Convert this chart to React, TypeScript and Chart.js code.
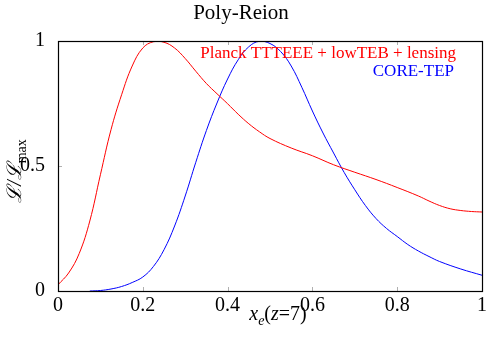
import React, { useEffect, useRef } from "react";
import { Chart, registerables } from "chart.js";
Chart.register(...registerables);

const titleText = "Poly-Reion";
const legendLabels = ["Planck TTTEEE + lowTEB + lensing", "CORE-TEP"];
const seriesColors = ["#ff0000", "#0000ff"];

const xTicks = [0, 0.2, 0.4, 0.6, 0.8, 1];
const yTicks = [0, 0.5, 1];

const planckX = [0, 0.025, 0.05, 0.075, 0.1, 0.125, 0.15, 0.175, 0.2, 0.225, 0.25, 0.275, 0.3, 0.325, 0.35, 0.375, 0.4, 0.425, 0.45, 0.475, 0.5, 0.55, 0.6, 0.65, 0.7, 0.75, 0.8, 0.85, 0.875, 0.9, 0.925, 0.95, 0.975, 1.0];
const planckY = [0.025, 0.072, 0.15, 0.28, 0.465, 0.645, 0.785, 0.9, 0.972, 0.997, 0.995, 0.972, 0.93, 0.879, 0.83, 0.789, 0.749, 0.707, 0.669, 0.637, 0.61, 0.572, 0.541, 0.505, 0.475, 0.446, 0.414, 0.38, 0.36, 0.342, 0.329, 0.322, 0.318, 0.316];

const coreX = [0.075, 0.1, 0.125, 0.15, 0.175, 0.2, 0.225, 0.25, 0.275, 0.3, 0.325, 0.35, 0.375, 0.4, 0.425, 0.45, 0.475, 0.5, 0.525, 0.55, 0.575, 0.6, 0.625, 0.65, 0.675, 0.7, 0.725, 0.75, 0.775, 0.8, 0.825, 0.85, 0.875, 0.9, 0.95, 1.0];
const coreY = [0, 0.002, 0.008, 0.018, 0.034, 0.056, 0.098, 0.165, 0.26, 0.38, 0.515, 0.642, 0.752, 0.848, 0.925, 0.977, 0.999, 0.99, 0.958, 0.9, 0.815, 0.72, 0.632, 0.552, 0.474, 0.405, 0.342, 0.29, 0.25, 0.218, 0.186, 0.16, 0.138, 0.118, 0.088, 0.063];

const SERIF = "'Liberation Serif', 'Times New Roman', serif";

const decor = {
  id: "decor",
  afterDraw(chart: any) {
    const { ctx, chartArea: a, scales } = chart;
    ctx.save();
    // inward ticks
    ctx.strokeStyle = "#b0b0b0";
    ctx.lineWidth = 1;
    ctx.beginPath();
    xTicks.slice(1, -1).forEach((v) => {
      const px = Math.round(scales.x.getPixelForValue(v)) + 0.5;
      ctx.moveTo(px, a.bottom);
      ctx.lineTo(px, a.bottom - 4);
      ctx.moveTo(px, a.top);
      ctx.lineTo(px, a.top + 4);
    });
    yTicks.slice(1, -1).forEach((v) => {
      const py = Math.round(scales.y.getPixelForValue(v)) + 0.5;
      ctx.moveTo(a.left, py);
      ctx.lineTo(a.left + 4, py);
    });
    ctx.stroke();
    // frame
    ctx.strokeStyle = "#000";
    ctx.lineWidth = 1.2;
    ctx.strokeRect(Math.round(a.left) + 0.5, Math.round(a.top) + 0.5, Math.round(a.right - a.left), Math.round(a.bottom - a.top));
    // legend
    ctx.textAlign = "right";
    ctx.textBaseline = "alphabetic";
    ctx.font = `17px ${SERIF}`;
    ctx.fillStyle = seriesColors[0];
    ctx.fillText(legendLabels[0], a.right - 26, a.top + 17);
    ctx.fillStyle = seriesColors[1];
    ctx.fillText(legendLabels[1], a.right - 28, a.top + 35);
    // x axis title: x_e(z=7)
    ctx.fillStyle = "#000";
    ctx.textAlign = "left";
    const big = 20, small = 14;
    const parts = [
      { t: "x", f: `italic ${big}px ${SERIF}`, dy: 0 },
      { t: "e", f: `italic ${small}px ${SERIF}`, dy: 5 },
      { t: "(", f: `${big}px ${SERIF}`, dy: 0 },
      { t: "z", f: `italic ${big}px ${SERIF}`, dy: 0 },
      { t: "=7)", f: `${big}px ${SERIF}`, dy: 0 },
    ];
    let total = 0;
    const widths = parts.map((p) => {
      ctx.font = p.f;
      const w = ctx.measureText(p.t).width;
      total += w;
      return w;
    });
    let x = (a.left + a.right) / 2 + 8 - total / 2;
    const base = a.bottom + 29;
    parts.forEach((p, i) => {
      ctx.font = p.f;
      ctx.fillText(p.t, x, base + p.dy);
      x += widths[i];
    });
    // y axis title: L/L_max rotated
    const yparts = [
      { t: "\u2112/\u2112", f: `italic ${big}px ${SERIF}`, dy: 0 },
      { t: "max", f: `${small}px ${SERIF}`, dy: 5 },
    ];
    let ytotal = 0;
    const ywidths = yparts.map((p) => {
      ctx.font = p.f;
      const w = ctx.measureText(p.t).width;
      ytotal += w;
      return w;
    });
    ctx.translate(a.left - 37, (a.top + a.bottom) / 2 + 5);
    ctx.rotate(-Math.PI / 2);
    let yx = -ytotal / 2;
    yparts.forEach((p, i) => {
      ctx.font = p.f;
      ctx.fillText(p.t, yx, p.dy);
      yx += ywidths[i];
    });
    ctx.restore();
  },
};

export default function App() {
  const ref = useRef<HTMLCanvasElement | null>(null);
  useEffect(() => {
    document.body.style.margin = "0";
    const canvas = ref.current;
    if (!canvas) return;
    Chart.defaults.font.family = SERIF;
    const fmt = (v: any) => String(Math.round(Number(v) * 10) / 10);
    const chart = new Chart(canvas, {
      type: "line",
      data: {
        datasets: [
          {
            label: legendLabels[0],
            data: planckX.map((x, i) => ({ x, y: planckY[i] })),
            borderColor: seriesColors[0],
            borderWidth: 1,
            pointRadius: 0,
            tension: 0.4,
            fill: false,
          },
          {
            label: legendLabels[1],
            data: coreX.map((x, i) => ({ x, y: coreY[i] })),
            borderColor: seriesColors[1],
            borderWidth: 1,
            pointRadius: 0,
            tension: 0.4,
            fill: false,
          },
        ],
      },
      options: {
        animation: false,
        responsive: true,
        maintainAspectRatio: false,
        layout: { padding: { left: 0, right: 18, top: 0, bottom: 0 } },
        plugins: {
          legend: { display: false },
          tooltip: { enabled: false },
          title: {
            display: true,
            text: titleText,
            color: "#000",
            font: { size: 21, weight: "normal", family: SERIF },
            padding: { top: 1, bottom: 14.8 },
          },
        },
        scales: {
          x: {
            type: "linear",
            min: 0,
            max: 1,
            grid: { display: false },
            border: { display: false },
            afterBuildTicks: (s: any) => {
              s.ticks = xTicks.map((v) => ({ value: v }));
            },
            afterFit: (s: any) => {
              s.height = 59;
            },
            ticks: { color: "#000", font: { size: 20, family: SERIF }, padding: -5, maxRotation: 0, callback: fmt },
          },
          y: {
            type: "linear",
            min: 0,
            max: 1,
            grid: { display: false },
            border: { display: false },
            afterBuildTicks: (s: any) => {
              s.ticks = yTicks.map((v) => ({ value: v }));
            },
            afterFit: (s: any) => {
              s.width = 58;
            },
            ticks: { color: "#000", font: { size: 20, family: SERIF }, padding: 5, callback: fmt },
          },
        },
      },
      plugins: [decor],
    });
    return () => chart.destroy();
  }, []);
  return (
    <div style={{ width: 500, height: 350, position: "relative" }}>
      <canvas ref={ref} />
    </div>
  );
}
